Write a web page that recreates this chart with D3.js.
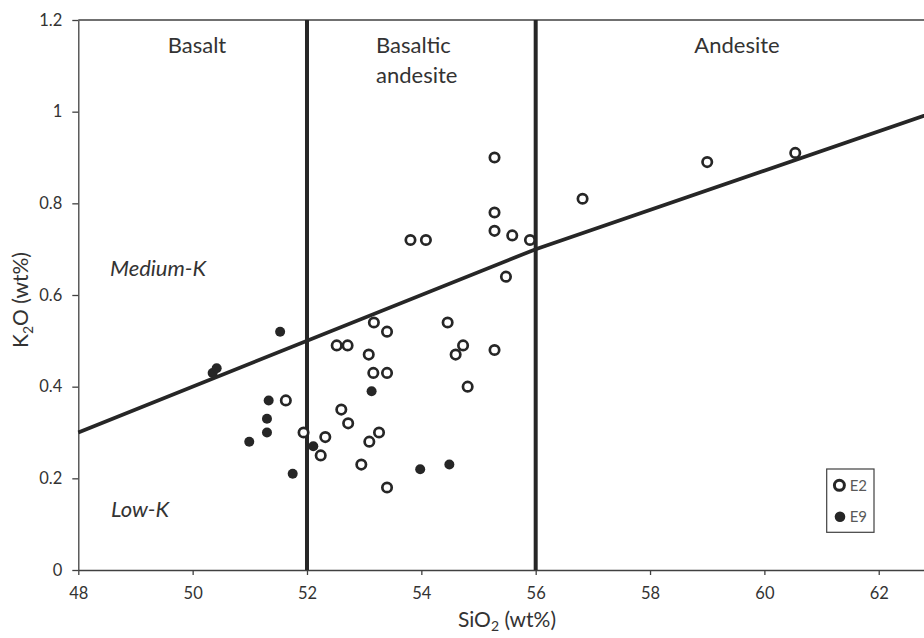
<!DOCTYPE html>
<html>
<head>
<meta charset="utf-8">
<script src="https://cdn.jsdelivr.net/npm/d3@7"></script>
<style>
  body { margin: 0; background: #fff; }
  svg { display: block; font-family: Lato, 'Open Sans', sans-serif; }
</style>
</head>
<body>
<svg id="chart" width="924" height="638"></svg>
<script>
// E2 samples (open circles): [SiO2, K2O]
const e2 = [
  [55.28, 0.90], [55.28, 0.78], [55.28, 0.74], [55.59, 0.73], [55.90, 0.72],
  [53.81, 0.72], [54.08, 0.72], [55.48, 0.64], [56.82, 0.81], [59.00, 0.89],
  [60.54, 0.91], [53.17, 0.54], [53.40, 0.52], [52.52, 0.49], [52.71, 0.49],
  [53.08, 0.47], [53.16, 0.43], [53.40, 0.43], [54.46, 0.54], [54.73, 0.49],
  [54.60, 0.47], [55.28, 0.48], [54.81, 0.40], [51.63, 0.37], [51.94, 0.30],
  [52.32, 0.29], [52.24, 0.25], [52.60, 0.35], [52.72, 0.32], [53.26, 0.30],
  [53.09, 0.28], [52.95, 0.23], [53.40, 0.18]
]
// E9 samples (filled circles)
const e9 = [
  [50.35, 0.43], [50.42, 0.44], [51.53, 0.52], [51.33, 0.37], [51.30, 0.33],
  [51.30, 0.30], [50.99, 0.28], [51.75, 0.21], [52.11, 0.27], [53.13, 0.39],
  [53.98, 0.22], [54.49, 0.23]
]
// low-K / medium-K boundary
const kBoundary = [[48, 0.3], [56, 0.7], [63, 1.0]]
// basalt / basaltic andesite / andesite boundaries
const silicaBounds = [52, 56]
const xTicks = [48, 50, 52, 54, 56, 58, 60, 62]
const yTicks = [0, 0.2, 0.4, 0.6, 0.8, 1, 1.2]

const ink = '#262626'
const textCol = '#333333'

const svg = d3.select('#chart')
const x = d3.scaleLinear().domain([48, 63]).range([78.3, 935.9])
const y = d3.scaleLinear().domain([0, 1.2]).range([570, 20])

// top frame line
svg.append('line')
  .attr('x1', x(48)).attr('x2', 924)
  .attr('y1', y(1.2)).attr('y2', y(1.2))
  .attr('stroke', '#404040').attr('stroke-width', 1.3)

const xAxis = svg.append('g')
  .attr('transform', `translate(0,${y(0)})`)
  .call(d3.axisBottom(x).tickValues(xTicks).tickSize(5).tickSizeOuter(0).tickPadding(12).tickFormat(d3.format('d')))
const yAxis = svg.append('g')
  .attr('transform', `translate(${x(48)},0)`)
  .call(d3.axisLeft(y).tickValues(yTicks).tickSize(6).tickSizeOuter(0).tickPadding(10).tickFormat(d => String(d)))

for (const g of [xAxis, yAxis]) {
  g.select('.domain').attr('stroke', '#404040').attr('stroke-width', 1.3)
  g.selectAll('.tick line').attr('stroke', '#404040').attr('stroke-width', 1.3)
  g.selectAll('.tick text')
    .attr('fill', textCol)
    .style('font-size', '16.5px')
    .style('font-family', 'Lato, sans-serif')
}

// silica boundaries
svg.selectAll('line.bound')
  .data(silicaBounds)
  .join('line')
  .attr('class', 'bound')
  .attr('x1', d => x(d)).attr('x2', d => x(d))
  .attr('y1', y(1.2)).attr('y2', y(0))
  .attr('stroke', ink).attr('stroke-width', 4)

// K boundary line
svg.append('path')
  .datum(kBoundary)
  .attr('d', d3.line().x(d => x(d[0])).y(d => y(d[1])))
  .attr('fill', 'none')
  .attr('stroke', ink)
  .attr('stroke-width', 3.8)

// field labels
const fieldLabels = svg.append('g')
  .attr('fill', textCol)
  .style('font-size', '22px')
fieldLabels.append('text').attr('x', 197).attr('y', 53).attr('text-anchor', 'middle').text('Basalt')
fieldLabels.append('text').attr('x', 376).attr('y', 53).text('Basaltic')
fieldLabels.append('text').attr('x', 376).attr('y', 83).text('andesite')
fieldLabels.append('text').attr('x', 737).attr('y', 53).attr('text-anchor', 'middle').text('Andesite')
fieldLabels.append('text').attr('x', 110).attr('y', 276).style('font-style', 'italic').text('Medium-K')
fieldLabels.append('text').attr('x', 111).attr('y', 517).style('font-style', 'italic').text('Low-K')

// points
svg.append('g')
  .selectAll('circle')
  .data(e2)
  .join('circle')
  .attr('cx', d => x(d[0]))
  .attr('cy', d => y(d[1]))
  .attr('r', 4.7)
  .attr('fill', '#fff')
  .attr('stroke', ink)
  .attr('stroke-width', 2.7)

svg.append('g')
  .selectAll('circle')
  .data(e9)
  .join('circle')
  .attr('cx', d => x(d[0]))
  .attr('cy', d => y(d[1]))
  .attr('r', 5)
  .attr('fill', ink)

// axis titles
const xTitle = svg.append('text')
  .attr('x', 507).attr('y', 627)
  .attr('text-anchor', 'middle')
  .attr('fill', textCol)
  .style('font-size', '21px')
xTitle.append('tspan').text('SiO')
xTitle.append('tspan').attr('dy', 4).style('font-size', '14px').text('2')
xTitle.append('tspan').attr('dy', -4).text(' (wt%)')

const yTitle = svg.append('text')
  .attr('transform', 'translate(28,300) rotate(-90)')
  .attr('text-anchor', 'middle')
  .attr('fill', textCol)
  .style('font-size', '21px')
yTitle.append('tspan').text('K')
yTitle.append('tspan').attr('dy', 5).style('font-size', '14px').text('2')
yTitle.append('tspan').attr('dy', -5).text('O (wt%)')

// legend
const legend = svg.append('g').attr('transform', 'translate(826.7,469)')
legend.append('rect')
  .attr('width', 47.3).attr('height', 63.3)
  .attr('fill', '#fff')
  .attr('stroke', '#404040').attr('stroke-width', 1.2)
legend.append('circle')
  .attr('cx', 12.7).attr('cy', 16.3).attr('r', 5)
  .attr('fill', '#fff').attr('stroke', ink).attr('stroke-width', 3)
legend.append('circle')
  .attr('cx', 13.3).attr('cy', 47.7).attr('r', 5.3)
  .attr('fill', ink)
legend.selectAll('text.lab')
  .data(['E2', 'E9'])
  .join('text')
  .attr('class', 'lab')
  .attr('x', 23)
  .attr('y', (d, i) => 22 + i * 31.3)
  .attr('fill', '#595959')
  .style('font-size', '15px')
  .text(d => d)
</script>
</body>
</html>
